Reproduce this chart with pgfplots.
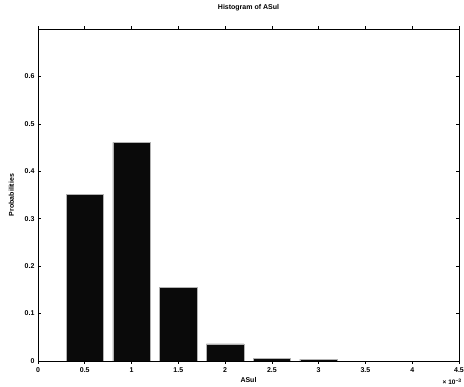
\documentclass[border=0pt]{standalone}
\usepackage{fontspec}
\setmainfont{Liberation Sans}
\usepackage{pgfplots}
\pgfplotsset{compat=1.18}
\begin{document}
\begin{tikzpicture}
\begin{axis}[
  scale only axis, width=421pt, height=332pt,
  xmin=0, xmax=4.5, ymin=0, ymax=0.7,
  xtick={0,0.5,1,1.5,2,2.5,3,3.5,4,4.5},
  ytick={0,0.1,0.2,0.3,0.4,0.5,0.6},
  xticklabels={0,0.5,1,1.5,2,2.5,3,3.5,4,4.5},
  yticklabels={0,0.1,0.2,0.3,0.4,0.5,0.6},
  tick align=inside, major tick length=3pt,
  axis line style={line width=0.9pt},
  every tick/.style={black, line width=0.7pt},
  ybar, bar width=0.4,
  tick label style={font=\fontsize{7}{8}\selectfont\bfseries},
  /pgf/number format/assume math mode=true,
  title={Histogram of ASul},
  title style={font=\fontsize{7}{8}\selectfont\bfseries, at={(axis description cs:0.5,1)}, anchor=base, yshift=14pt},
  xlabel={ASul},
  xlabel style={font=\fontsize{7}{8}\selectfont\bfseries, at={(axis description cs:0.5,-0.057)}, anchor=center},
  ylabel={Probabilities},
  ylabel style={font=\fontsize{7}{8}\selectfont\bfseries, at={(axis description cs:-0.063,0.5)}, anchor=center},
]
\addplot[fill=black!96, draw=gray!60, line width=0.5pt] coordinates {(0.5,0.352) (1,0.461) (1.5,0.155) (2,0.036) (2.5,0.006) (3,0.004)};
\end{axis}
\node[font=\fontsize{6.5}{7}\selectfont\bfseries, anchor=center] at (414pt,-21pt) {× 10\raisebox{0.6ex}{\fontsize{5}{6}\selectfont\bfseries −3}};
\pgfresetboundingbox
\path (-38pt,-26pt) rectangle (426pt,361pt);
\end{tikzpicture}
\end{document}
